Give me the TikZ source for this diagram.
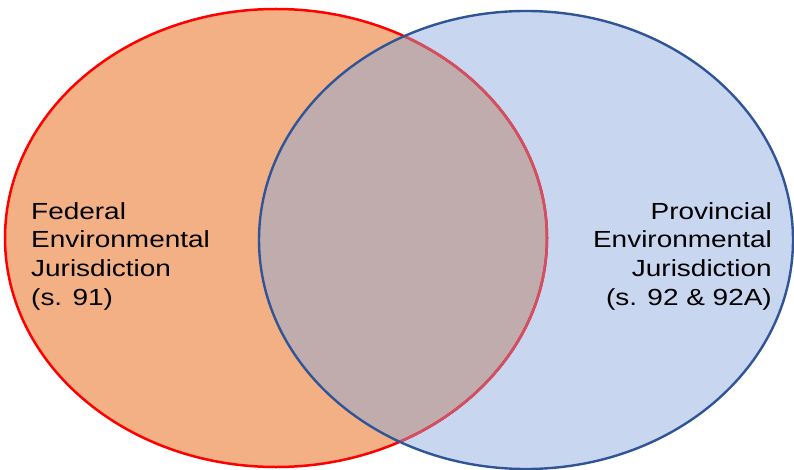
\documentclass[tikz,border=0pt]{standalone}
\usepackage{fontspec}
\newfontfamily\lblfont[FakeStretch=1.2]{Liberation Sans}
\definecolor{fedfill}{HTML}{F3B084}
\definecolor{provfill}{HTML}{C8D6EF}
\definecolor{overfill}{HTML}{C0ACAC}
\definecolor{fedline}{HTML}{FF0000}
\definecolor{fedlinein}{HTML}{D05064}
\definecolor{provline}{HTML}{2F5597}
\tikzset{
  lbl/.style={inner sep=0pt, font=\lblfont\fontsize{23.3}{28.8}\selectfont, text=black},
  fedshape/.style={x radius=271pt, y radius=229pt},
  provshape/.style={x radius=267pt, y radius=229pt}
}
\begin{document}
\begin{tikzpicture}[x=1pt,y=-1pt]
\useasboundingbox (0,0) rectangle (794,470);
\coordinate (fc) at (276,238);
\coordinate (pc) at (526,240);
% fills
\fill[fedfill] (fc) ellipse [fedshape];
\fill[provfill] (pc) ellipse [provshape];
\begin{scope}
  \clip (fc) ellipse [fedshape];
  \fill[overfill] (pc) ellipse [provshape];
\end{scope}
% borders
\draw[fedline, line width=2.5pt] (fc) ellipse [fedshape];
\begin{scope}
  \clip (pc) ellipse [provshape];
  \draw[fedlinein, line width=2.5pt] (fc) ellipse [fedshape];
\end{scope}
\draw[provline, line width=2.4pt] (pc) ellipse [provshape];
% labels
\node[lbl, align=left, anchor=north west] (fed) at (31,202)
  {Federal\\Environmental\\Jurisdiction\\(s. 91)};
\node[lbl, align=right, anchor=north east] (prov) at (772,202)
  {Provincial\\Environmental\\Jurisdiction\\(s. 92 \& 92A)};
\end{tikzpicture}
\end{document}
